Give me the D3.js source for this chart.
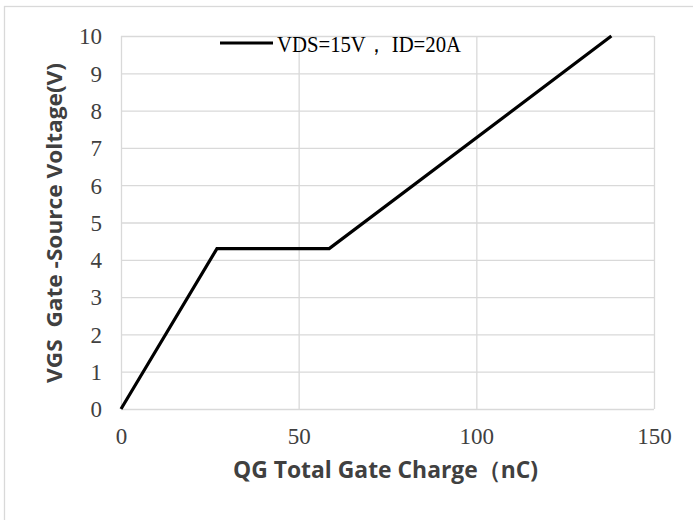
<!DOCTYPE html>
<html>
<head>
<meta charset="utf-8">
<script src="https://cdn.jsdelivr.net/npm/d3@7"></script>
<style>
  body { margin: 0; background: #fff; }
  .tick text { font-family: "Liberation Serif", serif; fill: #404040; }
  .title { font-family: "Open Sans", sans-serif; font-weight: bold; fill: #404040; }
</style>
</head>
<body>
<div class="chart"></div>
<script>
// gate charge curve
var charge = [0, 27, 58.6, 138];
var voltage = [0, 4.3, 4.3, 10];
var seriesName = "VDS=15V\uff0c ID=20A";
var xTicks = [0, 50, 100, 150];
var yTicks = [0, 1, 2, 3, 4, 5, 6, 7, 8, 9, 10];

var width = 693, height = 520;
var plot = {left: 121, right: 654, top: 36, bottom: 409};

var svg = d3.select(".chart")
    .append("svg")
    .attr("width", width)
    .attr("height", height);

// chart frame, only top and left edges fall inside the picture
svg.append("rect")
    .attr("x", 4.5)
    .attr("y", 6.5)
    .attr("width", 720)
    .attr("height", 540)
    .style("fill", "none")
    .style("stroke", "#d9d9d9")
    .style("stroke-width", 1.3);

var x = d3.scaleLinear()
    .domain([0, 150])
    .range([plot.left, plot.right]);

var y = d3.scaleLinear()
    .domain([0, 10])
    .range([plot.bottom, plot.top]);

// horizontal grid + y labels
var yAxis = d3.axisLeft(y)
    .tickValues(yTicks)
    .tickSize(-(plot.right - plot.left))
    .tickPadding(19)
    .tickFormat(d3.format("d"));

var gy = svg.append("g")
    .attr("class", "y axis")
    .attr("transform", "translate(" + plot.left + ",0)")
    .call(yAxis);

gy.select(".domain").remove();
gy.selectAll(".tick line")
    .style("stroke", "#d9d9d9")
    .style("stroke-width", 1.3);
gy.selectAll(".tick text")
    .style("font-size", "23px")
    .attr("dy", "0.34em");

// vertical grid + x labels
var xAxis = d3.axisBottom(x)
    .tickValues(xTicks)
    .tickSize(-(plot.bottom - plot.top))
    .tickPadding(0)
    .tickFormat(d3.format("d"));

var gx = svg.append("g")
    .attr("class", "x axis")
    .attr("transform", "translate(0," + plot.bottom + ")")
    .call(xAxis);

gx.select(".domain").remove();
gx.selectAll(".tick line")
    .style("stroke", "#d9d9d9")
    .style("stroke-width", 1.3);
gx.selectAll(".tick text")
    .style("font-size", "23px")
    .attr("y", 35)
    .attr("dy", 0);

// the curve
var points = charge.map(function(q, i) { return [q, voltage[i]]; });

var line = d3.line()
    .x(function(d) { return x(d[0]); })
    .y(function(d) { return y(d[1]); });

svg.append("path")
    .datum(points)
    .attr("d", line)
    .style("fill", "none")
    .style("stroke", "#000")
    .style("stroke-width", 3.2)
    .style("stroke-linejoin", "miter");

// legend
var key = svg.append("g").attr("class", "legend");

key.append("line")
    .attr("x1", 220)
    .attr("x2", 273)
    .attr("y1", 43)
    .attr("y2", 43)
    .style("stroke", "#000")
    .style("stroke-width", 3.2);

key.append("text")
    .attr("x", 277)
    .attr("y", 52)
    .attr("textLength", 184)
    .attr("lengthAdjust", "spacingAndGlyphs")
    .style("font-family", "Liberation Serif, serif")
    .style("font-size", "23px")
    .style("fill", "#000")
    .text(seriesName);

// axis titles
svg.append("text")
    .attr("class", "title")
    .attr("x", 385.5)
    .attr("y", 478)
    .attr("text-anchor", "middle")
    .attr("textLength", 305)
    .attr("lengthAdjust", "spacingAndGlyphs")
    .style("font-size", "23px")
    .text("QG Total Gate Charge\uff08nC)");

svg.append("text")
    .attr("class", "title")
    .attr("transform", "translate(62,223) rotate(-90)")
    .attr("text-anchor", "middle")
    .attr("textLength", 320)
    .attr("lengthAdjust", "spacingAndGlyphs")
    .style("font-size", "21px")
    .style("white-space", "pre")
    .text("VGS  Gate -Source Voltage(V)");
</script>
</body>
</html>
